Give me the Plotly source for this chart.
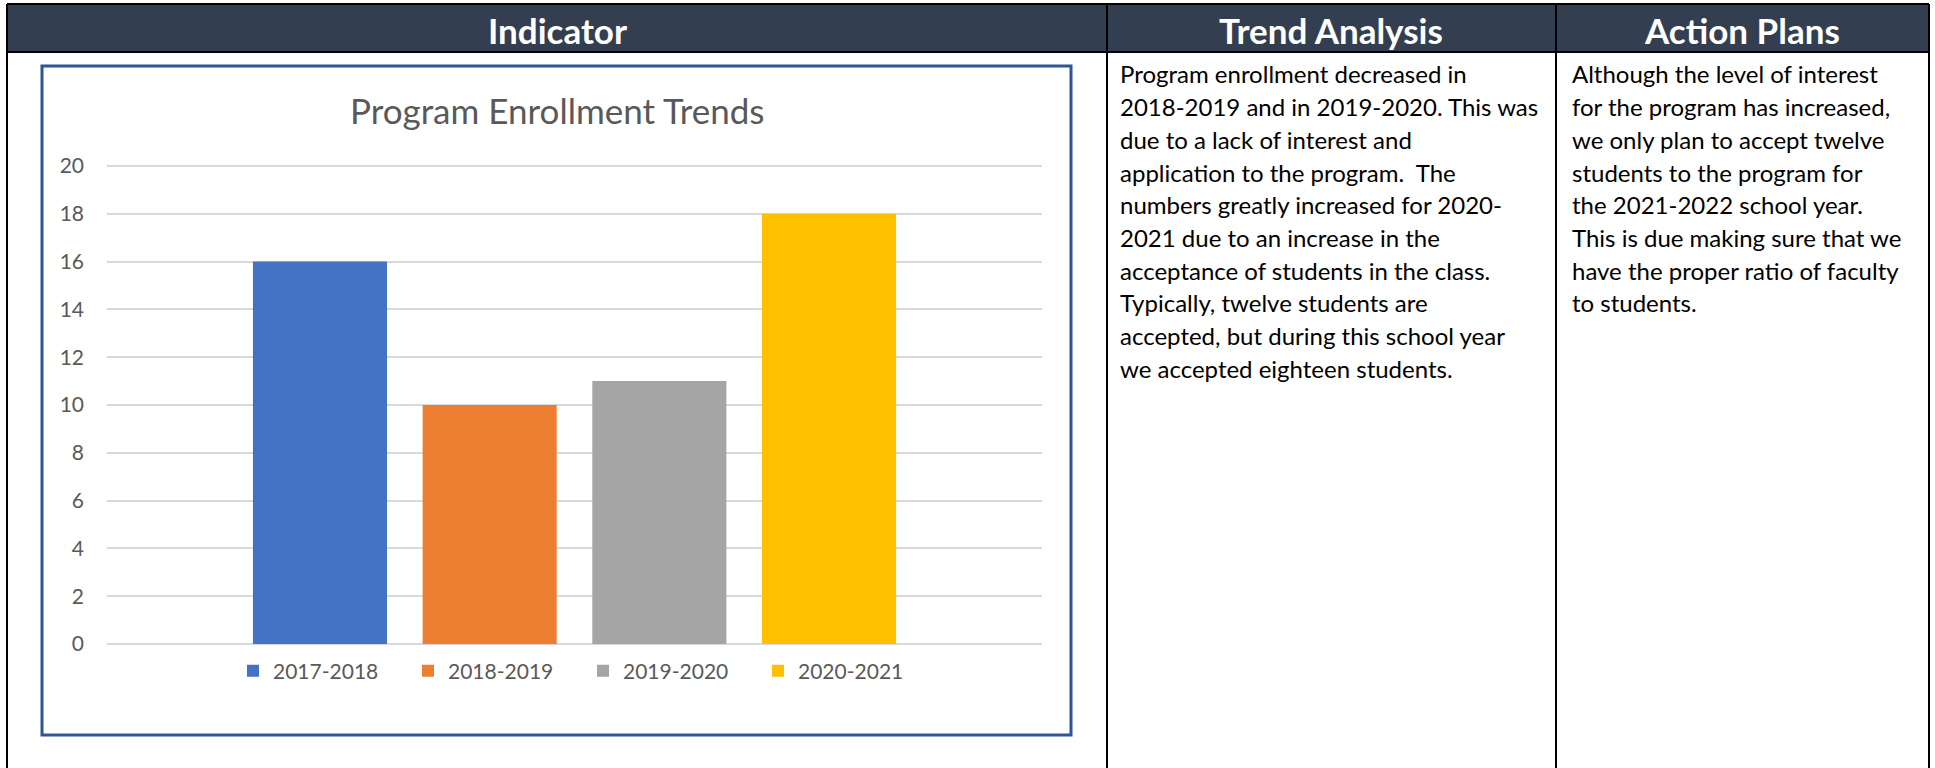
import plotly.graph_objects as go

# ---------------- data ----------------
years = ["2017-2018", "2018-2019", "2019-2020", "2020-2021"]
enrollment = [16, 10, 11, 18]
bar_colors = ["#4472C4", "#ED7D31", "#A5A5A5", "#FFC000"]
y_ticks = [0, 2, 4, 6, 8, 10, 12, 14, 16, 18, 20]

chart_title = "Program Enrollment Trends"
headers = ["Indicator", "Trend Analysis", "Action Plans"]
trend_lines = [
    "Program enrollment decreased in",
    "2018-2019 and in 2019-2020. This was",
    "due to a lack of interest and",
    "application to the program.  The",
    "numbers greatly increased for 2020-",
    "2021 due to an increase in the",
    "acceptance of students in the class.",
    "Typically, twelve students are",
    "accepted, but during this school year",
    "we accepted eighteen students.",
]
action_lines = [
    "Although the level of interest",
    "for the program has increased,",
    "we only plan to accept twelve",
    "students to the program for",
    "the 2021-2022 school year.",
    "This is due making sure that we",
    "have the proper ratio of faculty",
    "to students.",
]

# ---------------- layout helpers ----------------
W, H = 1935, 768


def px(x):
    return x / W


def py(y):
    return 1 - y / H


FONT = "Lato, 'Open Sans', sans-serif"
HEADER_BG = "#333F50"
GRAY_TXT = "#595959"

# y axis: value 0 at pixel 644, value 20 at pixel 166; extend range a bit so
# the top gridline is not at the very edge of the plotting area
Y0_PX, Y20_PX = 644, 166
Y_TOP = 20.1
y_top_px = Y0_PX - (Y0_PX - Y20_PX) * Y_TOP / 20

fig = go.Figure()
for yr, val, col in zip(years, enrollment, bar_colors):
    fig.add_trace(go.Bar(x=[yr], y=[val], name=yr, marker_color=col,
                         marker_line_width=0, hoverinfo="x+y"))

shapes = []
# header band
shapes.append(dict(type="rect", xref="paper", yref="paper", layer="below",
                   x0=px(7), x1=px(1929), y0=py(5), y1=py(52),
                   fillcolor=HEADER_BG, line_width=0))
# table lines
line_style = dict(color="black", width=2)
for (x0, y0, x1, y1) in [
    (7, 4, 1929, 4),        # top
    (7, 52, 1929, 52),      # header bottom
    (7, 4, 7, 768),         # left
    (1929, 4, 1929, 768),   # right
    (1107, 4, 1107, 768),   # divider 1
    (1556, 4, 1556, 768),   # divider 2
]:
    shapes.append(dict(type="line", xref="paper", yref="paper", layer="above",
                       x0=px(x0), x1=px(x1), y0=py(y0), y1=py(y1), line=line_style))
# chart frame
shapes.append(dict(type="rect", xref="paper", yref="paper", layer="below",
                   x0=px(42), x1=px(1071), y0=py(66), y1=py(735),
                   fillcolor="white", line=dict(color="#2F5597", width=3)))

annotations = []
header_centers = [557, 1331, 1742]
for txt, cx in zip(headers, header_centers):
    annotations.append(dict(text=f"<b>{txt}</b>", x=px(cx), y=py(30), xref="paper", yref="paper",
                            xanchor="center", yanchor="middle", showarrow=False,
                            font=dict(family=FONT, size=35, color="white")))

# chart title
annotations.append(dict(text=chart_title, x=px(557), y=py(110), xref="paper", yref="paper",
                        xanchor="center", yanchor="middle", showarrow=False,
                        font=dict(family=FONT, size=35, color=GRAY_TXT)))

LINE_H = 32.7
for i, ln in enumerate(trend_lines):
    annotations.append(dict(text=ln, x=px(1118), y=py(74 + i * LINE_H), xref="paper", yref="paper",
                            xanchor="left", yanchor="middle", showarrow=False,
                            font=dict(family=FONT, size=24, color="black")))
for i, ln in enumerate(action_lines):
    annotations.append(dict(text=ln, x=px(1570), y=py(74 + i * LINE_H), xref="paper", yref="paper",
                            xanchor="left", yanchor="middle", showarrow=False,
                            font=dict(family=FONT, size=24, color="black")))

fig.update_layout(
    width=W, height=H,
    margin=dict(l=0, r=0, t=0, b=0, pad=0, autoexpand=False),
    paper_bgcolor="white",
    plot_bgcolor="rgba(0,0,0,0)",
    barmode="overlay",
    bargap=0.21,
    xaxis=dict(domain=[px(107), px(1042)], range=[-1.255, 4.255],
               showticklabels=False, showgrid=False, zeroline=False, showline=False,
               ticks="", automargin=False),
    yaxis=dict(domain=[py(Y0_PX), py(y_top_px)], range=[0, Y_TOP], tickvals=y_ticks,
               showgrid=True, gridcolor="#D9D9D9", gridwidth=1.5,
               zeroline=True, zerolinecolor="#D9D9D9", zerolinewidth=1.5,
               showline=False, ticks="", ticklabelstandoff=22, automargin=False,
               tickfont=dict(family=FONT, size=21, color=GRAY_TXT)),
    showlegend=True,
    legend=dict(orientation="h", x=px(233), xanchor="left", y=py(671), yanchor="middle",
                font=dict(family=FONT, size=21, color=GRAY_TXT),
                entrywidth=130, entrywidthmode="pixels",
                bgcolor="rgba(0,0,0,0)", itemclick=False),
    shapes=shapes,
    annotations=annotations,
)

fig.write_html("out.html")
